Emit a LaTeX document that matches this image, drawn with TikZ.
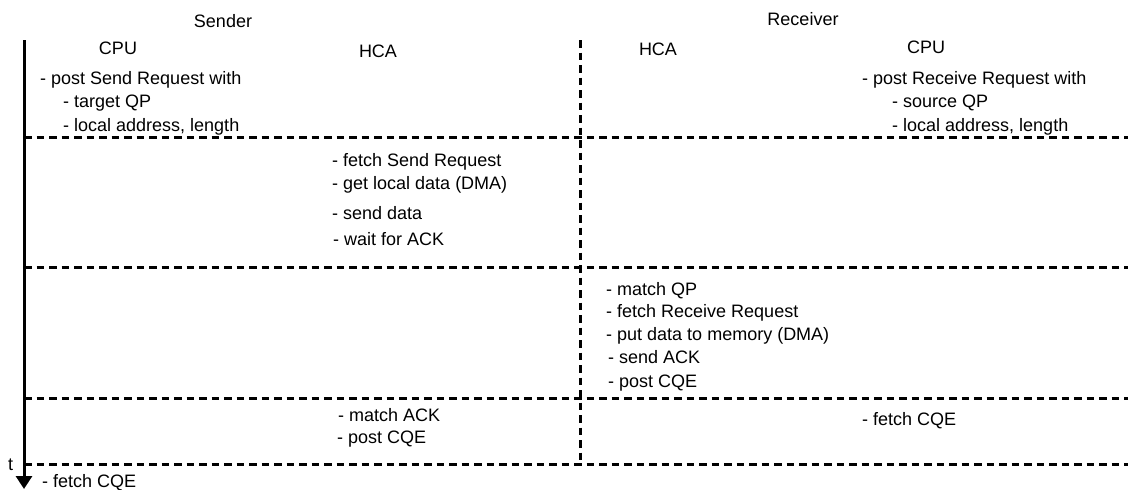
\documentclass[tikz,border=0pt]{standalone}
\usepackage{fontspec}
\setmainfont{Liberation Sans}
\usetikzlibrary{arrows.meta}
\begin{document}
\begin{tikzpicture}[x=1pt,y=-1pt,
  txt/.style={anchor=base west, inner sep=0pt, font=\fontsize{18}{21}\selectfont},
  title/.style={anchor=base, inner sep=0pt, font=\fontsize{18}{21}\selectfont},
  sep/.style={line width=3pt, dash pattern=on 7.5pt off 5pt},
  timeaxis/.style={line width=3pt, -{Triangle[width=16pt,length=13pt]}}]
\useasboundingbox (0,0) rectangle (1128,490);

% time axis and column divider
\coordinate (axtop) at (24,40);
\coordinate (axend) at (24,489);
\coordinate (divtop) at (580,40);
\coordinate (divend) at (580,465);
\draw[timeaxis] (axtop) -- (axend);
\draw[sep] (divtop) -- (divend);

% phase separators
\foreach \y/\n in {137/a,267/b,398/c,464/d}{
  \coordinate (s\n) at (24,\y);
  \coordinate (e\n) at (1128,\y);
  \draw[sep] (s\n) -- (e\n);
}

% headings
\node[title] (sender) at (223,27) {Sender};
\node[title] (receiver) at (803,25) {Receiver};
\node[title] (scpu) at (118,54) {CPU};
\node[title] (shca) at (378,57) {HCA};
\node[title] (rhca) at (658,55) {HCA};
\node[title] (rcpu) at (926,53) {CPU};

% phase 1: post requests
\node[txt] (p1a) at (40,84) {- post Send Request with};
\node[txt] (p1b) at (63,107) {- target QP};
\node[txt] (p1c) at (63,131) {- local address, length};
\node[txt] (p1d) at (862,84) {- post Receive Request with};
\node[txt] (p1e) at (892,107) {- source QP};
\node[txt] (p1f) at (892,131) {- local address, length};

% phase 2: sender HCA
\node[txt] (p2a) at (332,166) {- fetch Send Request};
\node[txt] (p2b) at (332,189) {- get local data (DMA)};
\node[txt] (p2c) at (332,219) {- send data};
\node[txt] (p2d) at (333,245) {- wait for ACK};

% phase 3: receiver HCA
\node[txt] (p3a) at (606,295) {- match QP};
\node[txt] (p3b) at (606,317) {- fetch Receive Request};
\node[txt] (p3c) at (606,340) {- put data to memory (DMA)};
\node[txt] (p3d) at (608,363) {- send ACK};
\node[txt] (p3e) at (608,387) {- post CQE};

% phase 4: completion
\node[txt] (p4a) at (338,421) {- match ACK};
\node[txt] (p4b) at (337,443) {- post CQE};
\node[txt] (p4c) at (862,425) {- fetch CQE};

% time label and final step
\node[txt] (tlabel) at (8,470) {t};
\node[txt] (p5a) at (42,487) {- fetch CQE};
\end{tikzpicture}
\end{document}
